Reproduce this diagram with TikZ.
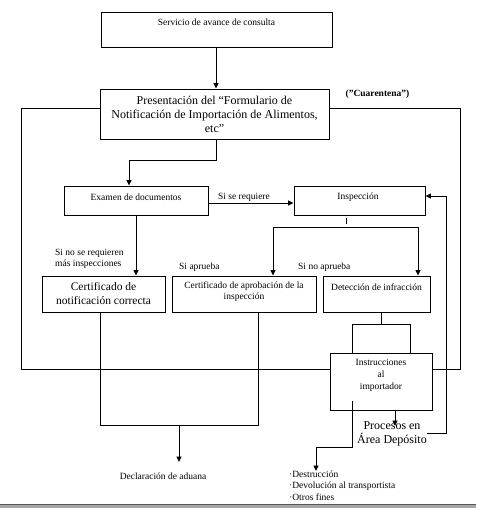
\documentclass[tikz,border=0pt]{standalone}
\usepackage{fontspec}
\setmainfont{Liberation Serif}
\usetikzlibrary{arrows.meta}
\tikzset{
  box/.style={draw, line width=0.9pt, inner sep=0pt, anchor=center},
  small/.style={font=\fontsize{9.5}{11.5}\selectfont, inner sep=0pt, align=center},
  big/.style={font=\fontsize{12}{14}\selectfont, inner sep=0pt, align=center},
  conn/.style={line width=0.9pt},
  arr/.style={line width=0.9pt, -{Triangle[width=5pt,length=5.5pt]}},
}
\begin{document}
\begin{tikzpicture}[x=1pt,y=-1pt]
\useasboundingbox (0,0) rectangle (476,508);
\fill[white] (0,0) rectangle (476,508);
\fill[black!30!gray] (0,503.5) rectangle (476,505);
\fill[gray!70] (0,505) rectangle (476,508);
% boxes
\node[box, minimum width=231, minimum height=35] (serv) at (216.5,29.5) {};
\node[small] (servt) at (216.5,22) {Servicio de avance de consulta};
\node[box, big, minimum width=229, minimum height=50] (pres) at (214.5,114)
  {Presentación del “Formulario de\\Notificación de Importación de Alimentos,\\etc”};
\node[font=\bfseries\fontsize{9.5}{11}\selectfont, inner sep=0pt] (cuar) at (377.5,94) {(\symbol{34}Cuarentena\symbol{34})};
\node[box, minimum width=144, minimum height=29] (exam) at (136,200.5) {};
\node[small] (examt) at (136,197) {Examen de documentos};
\node[box, minimum width=131, minimum height=29] (insp) at (359.5,200.5) {};
\node[small] (inspt) at (358,197) {Inspección};
\node[box, big, font=\fontsize{11.5}{14}\selectfont, minimum width=123, minimum height=36] (cnot) at (103.5,294)
  {Certificado de\\notificación correcta};
\node[box, minimum width=144, minimum height=36] (capr) at (244,294) {};
\node[small, font=\fontsize{9.5}{11}\selectfont] (caprt) at (244,292) {Certificado de aprobación de la\\inspección};
\node[box, minimum width=107, minimum height=36] (det) at (376.5,294) {};
\node[small] (dett) at (376.5,287) {Detección de infracción};
\node[box, minimum width=102, minimum height=57] (instr) at (381,381.5) {};
\node[small, font=\fontsize{9.5}{12}\selectfont] (instrt) at (381,375) {Instrucciones\\al\\importador};
% labels
\node[small] (lreq) at (244,197) {Si se requiere};
\node[small, align=left, anchor=north west] (lnoreq) at (55,249) {Si no se requieren\\más inspecciones};
\node[small, anchor=west] (lsi) at (179,267) {Si aprueba};
\node[small, anchor=west] (lno) at (298,267) {Si no aprueba};
\node[small] (decl) at (163,476) {Declaración de aduana};
\node[small, align=left, anchor=north west] (dest) at (289,470.5) {·Destrucción\\·Devolución al transportista\\·Otros fines};
\node[big] (proc) at (392,434) {Procesos en\\Área Depósito};
% connectors
\draw[arr] (serv.south -| 216,0) -- (pres.north -| 216,0);
\coordinate (lw) at (21,108);
\coordinate (le) at (460,108);
\draw[conn] (pres.west |- lw) -- (lw) -- (21,369) -- (instr.west |- 0,369);
\draw[conn] (pres.east |- le) -- (le) -- (460,369) -- (instr.east |- 0,369);
\draw[arr] (pres.south -| 216,0) -- (216,160) -- (129,160) -- (exam.north -| 129,0);
\draw[arr] (exam.east |- 0,203) -- (insp.west |- 0,203);
\draw[conn] (346,218) -- (346,224);
\draw[arr] (273,227) -- (capr.north -| 273,0);
\draw[arr] (273,227) -- (418,227) -- (det.north -| 418,0);
\draw[arr] (exam.south -| 136,0) -- (cnot.north -| 136,0);
\draw[conn] (det.south -| 381.5,0) -- (381.5,324);
\draw[conn] (instr.north -| 352,0) -- (352,324) -- (410,324) -- (instr.north -| 410,0);
\draw[conn] (cnot.south -| 100,0) -- (100,425) -- (258,425) -- (capr.south -| 258,0);
\coordinate (declin) at (179,462);
\draw[arr] (179,425) -- (declin);
\coordinate (inner) at (352,401);
\draw[arr] (inner) -- (352,447) -- (316,447) -- (316,471);
\coordinate (procin) at (395,426);
\draw[arr] (instr.south -| 395,0) -- (procin);
\draw[arr] (427,433) -- (446,433) -- (446,196) -- (insp.east |- 0,196);
\end{tikzpicture}
\end{document}
